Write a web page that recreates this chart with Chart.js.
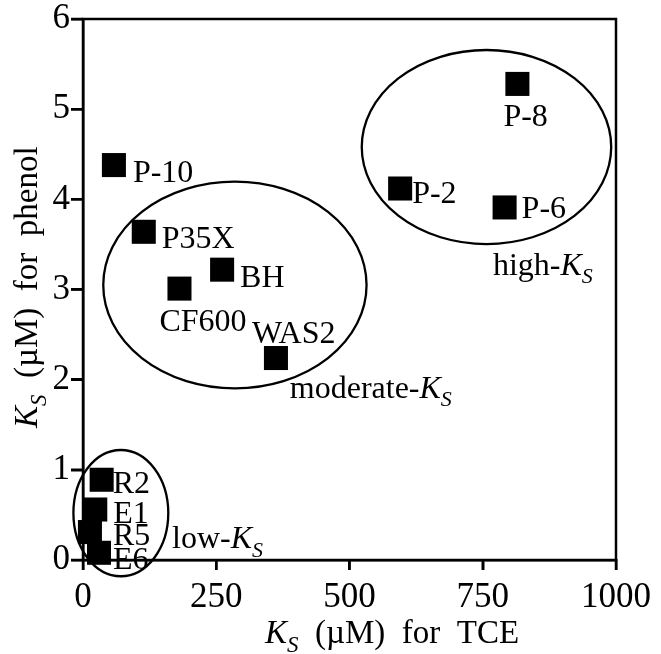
<!doctype html>
<html>
<head>
<title>Ks TCE vs phenol</title>
<script src="https://cdn.jsdelivr.net/npm/chart.js@4/dist/chart.umd.min.js"></script>
<style>
  html, body { margin: 0; padding: 0; background: #fff; }
  #wrap { width: 661px; height: 654px; }
</style>
</head>
<body>
<div id="wrap"><canvas id="canvas"></canvas></div>
<script>
// strains and their half-saturation constants
var strains  = ['P-10', 'P35X', 'BH', 'CF600', 'WAS2', 'P-8', 'P-2', 'P-6', 'R2', 'E1', 'R5', 'E6'];
var ksTCE    = [58, 114, 261, 181, 362, 815, 595, 791, 35, 23, 13, 30];
var ksPhenol = [4.38, 3.64, 3.22, 3.01, 2.24, 5.28, 4.12, 3.91, 0.89, 0.56, 0.31, 0.08];

var xTicks = [0, 250, 500, 750, 1000];
var yTicks = [0, 1, 2, 3, 4, 5, 6];

// groups drawn as ellipses (data units)
var groupNames = ['low-', 'moderate-', 'high-'];
var groupCx = [71, 285, 757];
var groupCy = [0.52, 3.05, 4.58];
var groupRx = [89, 247, 234];
var groupRy = [0.70, 1.146, 1.076];
var groupLabelX = [167, 388, 769];
var groupLabelY = [0.13, 1.80, 3.16];

var SERIF = "'Liberation Serif', 'Times New Roman', serif";

// label offsets from the marker centre, px
var labelOffset = {
  'P-10': [19, 6], 'P35X': [18, 5], 'BH': [18, 6], 'CF600': [-20, 31],
  'WAS2': [-24, -26], 'P-8': [-14, 31], 'P-2': [12, 3], 'P-6': [17, 0],
  'R2': [11, 2], 'E1': [18, 2], 'R5': [23, 2], 'E6': [14, 5]
};

function drawKs(ctx, x, y, prefix, suffix, size) {
  ctx.textBaseline = 'alphabetic';
  ctx.textAlign = 'left';
  ctx.font = size + 'px ' + SERIF;
  if (prefix) { ctx.fillText(prefix, x, y); x += ctx.measureText(prefix).width; }
  ctx.font = 'italic ' + size + 'px ' + SERIF;
  ctx.fillText('K', x, y);
  x += ctx.measureText('K').width;
  var sub = Math.round(size * 0.7);
  ctx.font = 'italic ' + sub + 'px ' + SERIF;
  ctx.fillText('S', x, y + size * 0.26);
  x += ctx.measureText('S').width;
  if (suffix) {
    ctx.font = size + 'px ' + SERIF;
    ctx.fillText(suffix, x, y);
  }
}

var decor = {
  id: 'decor',
  afterDatasetsDraw: function(chart) {
    var ctx = chart.ctx, a = chart.chartArea;
    var xs = chart.scales.x, ys = chart.scales.y;
    ctx.save();
    ctx.fillStyle = '#000';
    ctx.strokeStyle = '#000';

    // frame and outward tick marks
    ctx.lineWidth = 2.5;
    ctx.strokeRect(a.left, a.top, a.right - a.left, a.bottom - a.top);
    ctx.beginPath();
    xTicks.forEach(function(v) {
      var p = xs.getPixelForValue(v);
      ctx.moveTo(p, a.bottom); ctx.lineTo(p, a.bottom + 10);
    });
    yTicks.forEach(function(v) {
      var p = ys.getPixelForValue(v);
      ctx.moveTo(a.left, p); ctx.lineTo(a.left - 12, p);
    });
    ctx.stroke();

    // group ellipses
    ctx.lineWidth = 2.3;
    for (var g = 0; g < groupCx.length; g++) {
      var cx = xs.getPixelForValue(groupCx[g]);
      var cy = ys.getPixelForValue(groupCy[g]);
      var rx = Math.abs(xs.getPixelForValue(groupCx[g] + groupRx[g]) - cx);
      var ry = Math.abs(ys.getPixelForValue(groupCy[g] + groupRy[g]) - cy);
      ctx.beginPath();
      ctx.ellipse(cx, cy, rx, ry, 0, 0, Math.PI * 2);
      ctx.stroke();
      drawKs(ctx, xs.getPixelForValue(groupLabelX[g]), ys.getPixelForValue(groupLabelY[g]), groupNames[g], '', 32);
    }

    // strain labels
    ctx.font = '32px ' + SERIF;
    ctx.textAlign = 'left';
    ctx.textBaseline = 'alphabetic';
    for (var i = 0; i < strains.length; i++) {
      var off = labelOffset[strains[i]] || [14, 0];
      var px = xs.getPixelForValue(ksTCE[i]) + off[0];
      var py = ys.getPixelForValue(ksPhenol[i]) + off[1] + 11;
      ctx.fillText(strains[i], px, py);
    }

    // axis titles
    drawKs(ctx, 265, 643, '', '  (\u00b5M)  for  TCE', 33);
    ctx.translate(37, 428);
    ctx.rotate(-Math.PI / 2);
    drawKs(ctx, 0, 0, '', '  (\u00b5M)  for  phenol', 33);
    ctx.restore();
  }
};

new Chart(document.getElementById('canvas'), {
  type: 'scatter',
  data: {
    datasets: [{
      data: strains.map(function(s, i) { return { x: ksTCE[i], y: ksPhenol[i] }; }),
      pointStyle: 'rect',
      pointRadius: 17,
      pointHoverRadius: 17,
      backgroundColor: '#000',
      borderWidth: 0,
      clip: false
    }]
  },
  options: {
    responsive: true,
    maintainAspectRatio: false,
    animation: false,
    layout: { padding: { top: 19, right: 45, left: 0, bottom: 0 } },
    plugins: { legend: { display: false }, tooltip: { enabled: false } },
    scales: {
      x: {
        type: 'linear', min: 0, max: 1000,
        afterBuildTicks: function(s) { s.ticks = xTicks.map(function(v) { return { value: v }; }); },
        afterFit: function(s) { s.height = 94; },
        ticks: { color: '#000', padding: 10, maxRotation: 0,
                 callback: function(v) { return String(v); },
                 font: { family: SERIF, size: 35, lineHeight: 1 } },
        grid: { color: '#000', lineWidth: 2.5, drawOnChartArea: false, drawTicks: true,
                tickLength: 10, tickWidth: 2.5, tickColor: '#000' },
        border: { display: true, color: '#000', width: 2.5 }
      },
      y: {
        type: 'linear', min: 0, max: 6,
        afterBuildTicks: function(s) { s.ticks = yTicks.map(function(v) { return { value: v }; }); },
        afterFit: function(s) { s.width = 83; },
        ticks: { color: '#000', padding: 1,
                 callback: function(v) { return String(v); },
                 font: { family: SERIF, size: 35, lineHeight: 1 } },
        grid: { color: '#000', lineWidth: 2.5, drawOnChartArea: false, drawTicks: true,
                tickLength: 12, tickWidth: 2.5, tickColor: '#000' },
        border: { display: true, color: '#000', width: 2.5 }
      }
    }
  },
  plugins: [decor]
});
</script>
</body>
</html>
